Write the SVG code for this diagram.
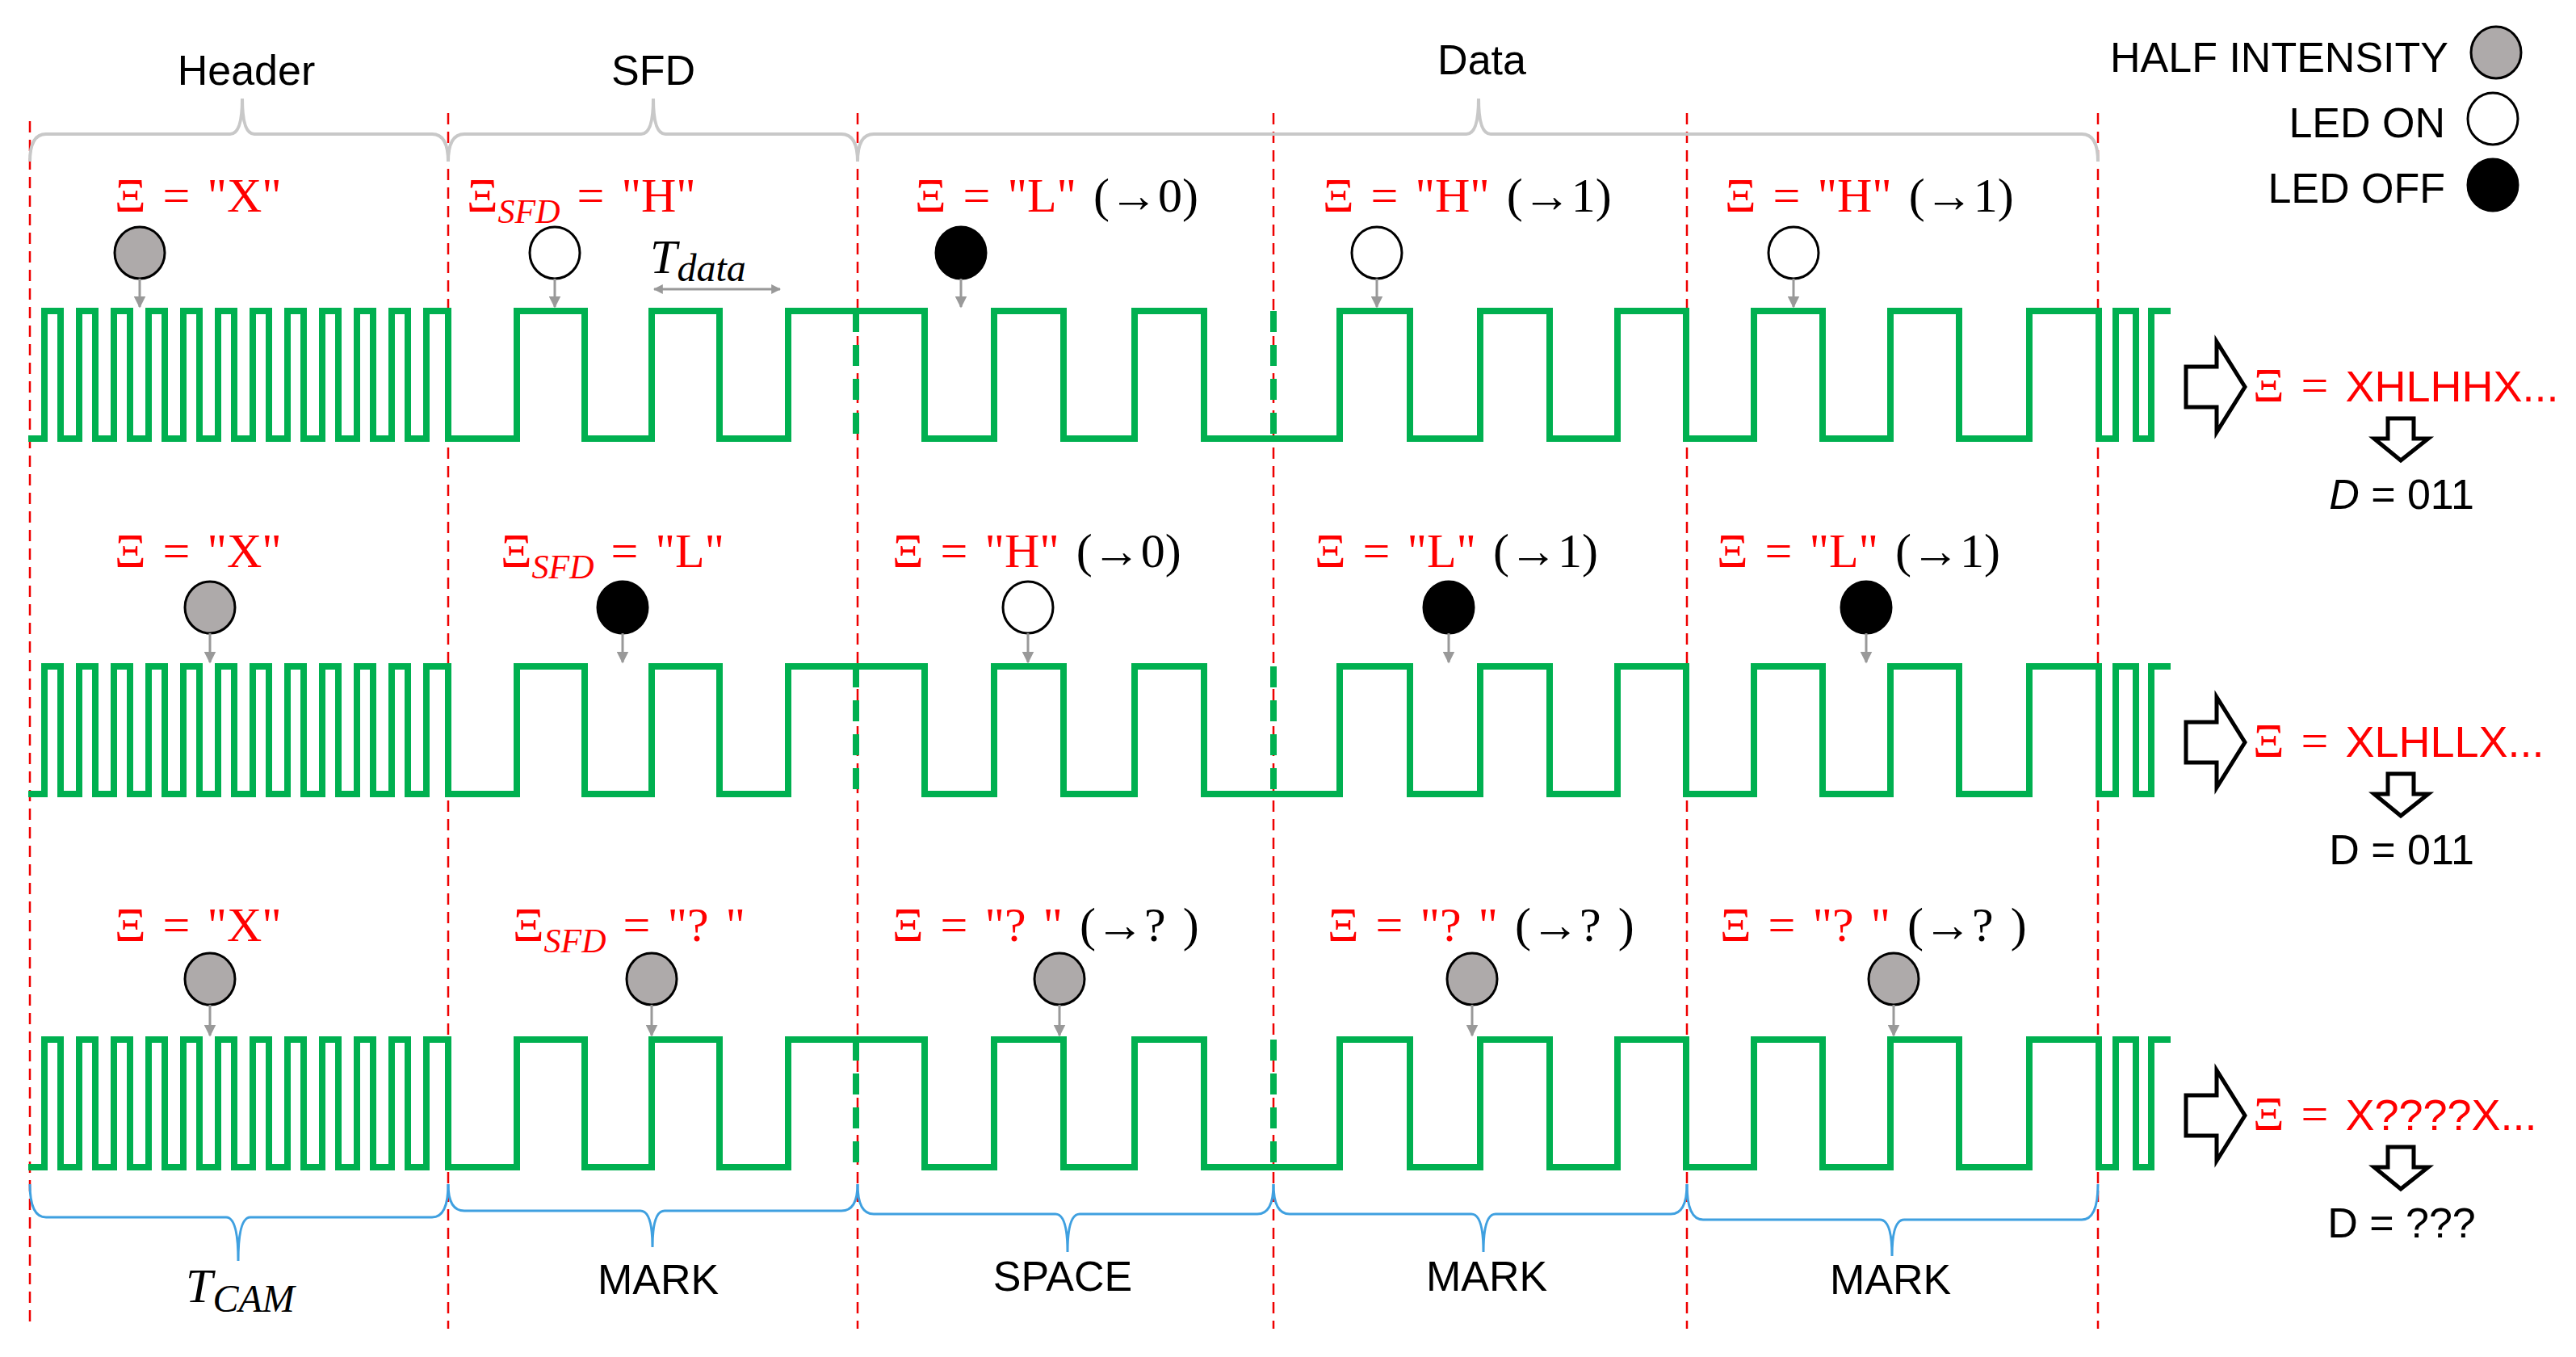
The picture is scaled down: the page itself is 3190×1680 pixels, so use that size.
<svg xmlns="http://www.w3.org/2000/svg" width="3190" height="1680" viewBox="0 0 3190 1680">
<style>
.sep{stroke:#e00;stroke-width:2.5;stroke-dasharray:14 9;fill:none}
.wave{stroke:#00b050;stroke-width:8;fill:none;stroke-linejoin:miter}
.gd{stroke:#00b050;stroke-width:8;stroke-dasharray:26 16;fill:none}
.bt{stroke:#c8c8c8;stroke-width:4;fill:none}
.bb{stroke:#3fa0e0;stroke-width:3;fill:none}
.lbl{font-family:"Liberation Serif",serif;font-size:60px;word-spacing:6px}
.sans{font-family:"Liberation Sans",sans-serif;font-size:52px;fill:#000}
.half{fill:#aeaaaa;stroke:#000;stroke-width:3}
.on{fill:#fff;stroke:#000;stroke-width:3}
.off{fill:#000;stroke:#000;stroke-width:3}
.ar{stroke:#999;stroke-width:3;fill:none}
.hollow{fill:#fff;stroke:#000;stroke-width:5}
</style>
<defs>
<marker id="ah" viewBox="0 0 10 10" refX="9" refY="5" markerWidth="5" markerHeight="5" orient="auto"><path d="M0 0L10 5L0 10z" fill="#999"/></marker>
<marker id="ah2" viewBox="0 0 10 10" refX="9" refY="5" markerWidth="4" markerHeight="4" orient="auto-start-reverse"><path d="M0 0L10 5L0 10z" fill="#999"/></marker>
<path id="w" d="M35 158 H55 V0 H75 V158 H98 V0 H118 V158 H141 V0 H161 V158 H184 V0 H204 V158 H227 V0 H247 V158 H270 V0 H290 V158 H313 V0 H333 V158 H356 V0 H376 V158 H399 V0 H419 V158 H442 V0 H462 V158 H485 V0 H505 V158 H528 V0 H555 V158 H640 V0 H724 V158 H807 V0 H891 V158 H976 V0 H1145 V158 H1231 V0 H1317 V158 H1405 V0 H1491 V158 H1659 V0 H1746 V158 H1833 V0 H1919 V158 H2003 V0 H2088 V158 H2172 V0 H2257 V158 H2341 V0 H2426 V158 H2513 V0 H2599 V158 H2620 V0 H2645 V158 H2664 V0 H2688"/>
<path id="gdash" d="M1060 0 V158 M1577 0 V158"/>
</defs>
<g id="separators">
<path class="sep" d="M37 150V1645M555 140V1645M1062 140V1645M1577 140V1645M2089 140V1645M2598 140V1645"/>
</g>
<g id="top-braces">
<path class="bt" d="M37 200Q37 166 57 166H285Q300 166 300 122Q300 166 315 166H535Q555 166 555 200"/>
<path class="bt" d="M555 200Q555 166 575 166H794Q809 166 809 122Q809 166 824 166H1042Q1062 166 1062 200"/>
<path class="bt" d="M1062 200Q1062 166 1082 166H1816Q1831 166 1831 122Q1831 166 1846 166H2578Q2598 166 2598 200"/>
<text class="sans" x="305" y="105" text-anchor="middle">Header</text>
<text class="sans" x="809" y="105" text-anchor="middle">SFD</text>
<text class="sans" x="1835" y="92" text-anchor="middle">Data</text>
</g>
<g id="legend">
<text class="sans" x="3032" y="89" text-anchor="end">HALF INTENSITY</text>
<ellipse class="half" cx="3091" cy="65" rx="31" ry="32"/>
<text class="sans" x="3028" y="170" text-anchor="end">LED ON</text>
<ellipse class="on" cx="3087" cy="147" rx="31" ry="32"/>
<text class="sans" x="3028" y="251" text-anchor="end">LED OFF</text>
<ellipse class="off" cx="3087" cy="229" rx="31" ry="32"/>
</g>
<g id="waveforms">
<use href="#w" class="wave" transform="translate(0,385)"/>
<use href="#w" class="wave" transform="translate(0,825)"/>
<use href="#w" class="wave" transform="translate(0,1287)"/>
<use href="#gdash" class="gd" transform="translate(0,385)"/>
<use href="#gdash" class="gd" transform="translate(0,825)"/>
<use href="#gdash" class="gd" transform="translate(0,1287)"/>
</g>
<g id="row1">
<text class="lbl" x="142" y="262" fill="red">Ξ = "X"</text>
<text class="lbl" x="578" y="262" fill="red">Ξ<tspan font-style="italic" font-size="42" dy="14">SFD</tspan><tspan dy="-14"> = "H"</tspan></text>
<text class="lbl" x="1133" y="262"><tspan fill="red">Ξ = "L"</tspan> (→0)</text>
<text class="lbl" x="1638" y="262"><tspan fill="red">Ξ = "H"</tspan> (→1)</text>
<text class="lbl" x="2136" y="262"><tspan fill="red">Ξ = "H"</tspan> (→1)</text>
<ellipse class="half" cx="173" cy="313" rx="31" ry="32"/>
<ellipse class="on" cx="687" cy="313" rx="31" ry="32"/>
<ellipse class="off" cx="1190" cy="313" rx="31" ry="32"/>
<ellipse class="on" cx="1705" cy="313" rx="31" ry="32"/>
<ellipse class="on" cx="2221" cy="313" rx="31" ry="32"/>
<text class="lbl" x="805" y="338" font-style="italic" font-size="62">T<tspan font-size="48" dy="10">data</tspan></text>
<line class="ar" x1="810" y1="358" x2="966" y2="358" marker-start="url(#ah2)" marker-end="url(#ah2)"/>
<polygon class="hollow" points="2707,454 2745,454 2745,423 2780,479 2745,535 2745,504 2707,504"/>
<text class="lbl" x="2790" y="497" fill="red">Ξ = <tspan font-family="Liberation Sans, sans-serif" font-size="54">XHLHHX...</tspan></text>
<polygon class="hollow" points="2957,518 2989,518 2989,543 3007,543 2973,570 2940,543 2957,543"/>
<text class="sans" x="2974" y="630" text-anchor="middle"><tspan font-style="italic">D</tspan> = 011</text>
</g>
<g id="row2">
<text class="lbl" x="142" y="702" fill="red">Ξ = "X"</text>
<text class="lbl" x="620" y="702" fill="red">Ξ<tspan font-style="italic" font-size="42" dy="14">SFD</tspan><tspan dy="-14"> = "L"</tspan></text>
<text class="lbl" x="1105" y="702"><tspan fill="red">Ξ = "H"</tspan> (→0)</text>
<text class="lbl" x="1628" y="702"><tspan fill="red">Ξ = "L"</tspan> (→1)</text>
<text class="lbl" x="2126" y="702"><tspan fill="red">Ξ = "L"</tspan> (→1)</text>
<ellipse class="half" cx="260" cy="752" rx="31" ry="32"/>
<ellipse class="off" cx="771" cy="752" rx="31" ry="32"/>
<ellipse class="on" cx="1273" cy="752" rx="31" ry="32"/>
<ellipse class="off" cx="1794" cy="752" rx="31" ry="32"/>
<ellipse class="off" cx="2311" cy="752" rx="31" ry="32"/>
<polygon class="hollow" points="2707,894 2745,894 2745,863 2780,919 2745,975 2745,944 2707,944"/>
<text class="lbl" x="2790" y="937" fill="red">Ξ = <tspan font-family="Liberation Sans, sans-serif" font-size="54">XLHLLX...</tspan></text>
<polygon class="hollow" points="2957,958 2989,958 2989,983 3007,983 2973,1010 2940,983 2957,983"/>
<text class="sans" x="2974" y="1070" text-anchor="middle">D = 011</text>
</g>
<g id="row3">
<text class="lbl" x="142" y="1165" fill="red">Ξ = "X"</text>
<text class="lbl" x="635" y="1165" fill="red">Ξ<tspan font-style="italic" font-size="42" dy="14">SFD</tspan><tspan dy="-14"> = "? "</tspan></text>
<text class="lbl" x="1105" y="1165"><tspan fill="red">Ξ = "? "</tspan> (→? )</text>
<text class="lbl" x="1644" y="1165"><tspan fill="red">Ξ = "? "</tspan> (→? )</text>
<text class="lbl" x="2130" y="1165"><tspan fill="red">Ξ = "? "</tspan> (→? )</text>
<ellipse class="half" cx="260" cy="1212" rx="31" ry="32"/>
<ellipse class="half" cx="807" cy="1212" rx="31" ry="32"/>
<ellipse class="half" cx="1312" cy="1212" rx="31" ry="32"/>
<ellipse class="half" cx="1823" cy="1212" rx="31" ry="32"/>
<ellipse class="half" cx="2345" cy="1212" rx="31" ry="32"/>
<polygon class="hollow" points="2707,1356 2745,1356 2745,1325 2780,1381 2745,1437 2745,1406 2707,1406"/>
<text class="lbl" x="2790" y="1399" fill="red">Ξ = <tspan font-family="Liberation Sans, sans-serif" font-size="54">X????X...</tspan></text>
<polygon class="hollow" points="2957,1420 2989,1420 2989,1445 3007,1445 2973,1472 2940,1445 2957,1445"/>
<text class="sans" x="2974" y="1532" text-anchor="middle">D = ???</text>
</g>
<g id="connectors">
<line class="ar" x1="173" y1="345" x2="173" y2="380" marker-end="url(#ah)"/>
<line class="ar" x1="687" y1="345" x2="687" y2="380" marker-end="url(#ah)"/>
<line class="ar" x1="1190" y1="345" x2="1190" y2="380" marker-end="url(#ah)"/>
<line class="ar" x1="1705" y1="345" x2="1705" y2="380" marker-end="url(#ah)"/>
<line class="ar" x1="2221" y1="345" x2="2221" y2="380" marker-end="url(#ah)"/>
<line class="ar" x1="260" y1="784" x2="260" y2="820" marker-end="url(#ah)"/>
<line class="ar" x1="771" y1="784" x2="771" y2="820" marker-end="url(#ah)"/>
<line class="ar" x1="1273" y1="784" x2="1273" y2="820" marker-end="url(#ah)"/>
<line class="ar" x1="1794" y1="784" x2="1794" y2="820" marker-end="url(#ah)"/>
<line class="ar" x1="2311" y1="784" x2="2311" y2="820" marker-end="url(#ah)"/>
<line class="ar" x1="260" y1="1244" x2="260" y2="1282" marker-end="url(#ah)"/>
<line class="ar" x1="807" y1="1244" x2="807" y2="1282" marker-end="url(#ah)"/>
<line class="ar" x1="1312" y1="1244" x2="1312" y2="1282" marker-end="url(#ah)"/>
<line class="ar" x1="1823" y1="1244" x2="1823" y2="1282" marker-end="url(#ah)"/>
<line class="ar" x1="2345" y1="1244" x2="2345" y2="1282" marker-end="url(#ah)"/>
</g>
<g id="bottom-braces">
<path class="bb" d="M37 1466Q37 1507 57 1507H280Q295 1507 295 1561Q295 1507 310 1507H535Q555 1507 555 1466"/>
<path class="bb" d="M555 1466Q555 1499 575 1499H793Q808 1499 808 1544Q808 1499 823 1499H1042Q1062 1499 1062 1466"/>
<path class="bb" d="M1062 1466Q1062 1503 1082 1503H1307Q1322 1503 1322 1550Q1322 1503 1337 1503H1557Q1577 1503 1577 1466"/>
<path class="bb" d="M1577 1466Q1577 1503 1597 1503H1822Q1837 1503 1837 1550Q1837 1503 1852 1503H2069Q2089 1503 2089 1466"/>
<path class="bb" d="M2089 1466Q2089 1510 2109 1510H2328Q2343 1510 2343 1555Q2343 1510 2358 1510H2578Q2598 1510 2598 1466"/>
<text class="lbl" x="230" y="1612" font-style="italic" font-size="62">T<tspan font-size="48" dy="12">CAM</tspan></text>
<text class="sans" x="815" y="1602" text-anchor="middle">MARK</text>
<text class="sans" x="1316" y="1598" text-anchor="middle">SPACE</text>
<text class="sans" x="1841" y="1598" text-anchor="middle">MARK</text>
<text class="sans" x="2341" y="1602" text-anchor="middle">MARK</text>
</g>
</svg>
